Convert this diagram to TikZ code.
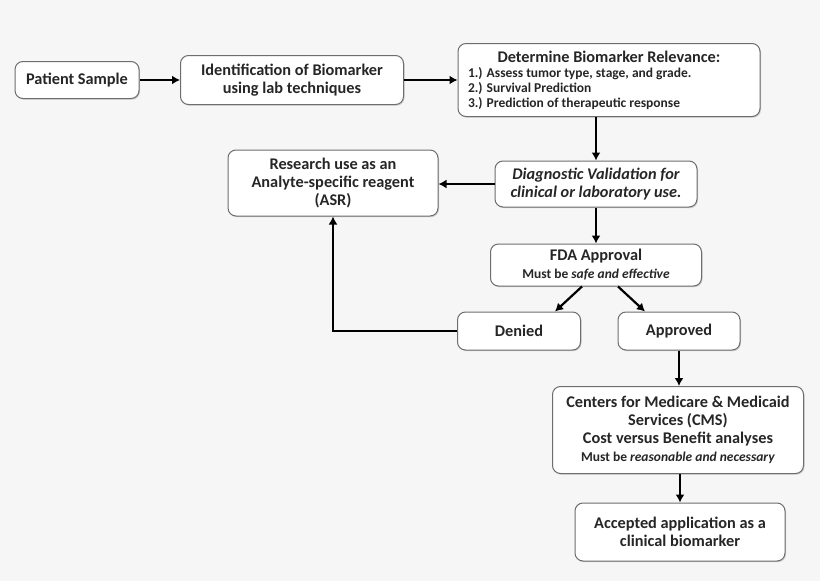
\documentclass[tikz,border=0pt]{standalone}
\usepackage{fontspec}
\setmainfont{Carlito}
\usetikzlibrary{arrows.meta,shadows}
\definecolor{bgcol}{HTML}{F6F6F6}
\definecolor{edgecol}{HTML}{6E6E6E}
\newcommand{\bigtxt}{\fontsize{16.3}{18}\selectfont}
\newcommand{\smtxt}{\fontsize{13.5}{15}\selectfont}
\tikzset{
  box/.style={draw=edgecol, line width=1pt, fill=white, rounded corners=8pt,
    align=center, font=\bfseries\bigtxt, text=black!85, inner sep=2pt,
    drop shadow={shadow xshift=1pt, shadow yshift=-1.2pt, opacity=.35}},
  flow/.style={->, line width=2.2pt, black}
}
\begin{document}
\begin{tikzpicture}[x=1pt, y=-1pt, >={Latex[length=8pt,width=9pt]}]
\useasboundingbox[fill=bgcol] (0,0) rectangle (820,581);

\node[box, minimum width=124, minimum height=37] (ps) at (77,80) {Patient Sample};
\node[box, minimum width=223, minimum height=49] (ident) at (292,80)
  {Identification of Biomarker\\using lab techniques};
\node[box, minimum width=302, minimum height=73, inner sep=0pt] (rel) at (609,80)
  {\parbox{282pt}{\centering\bigtxt Determine Biomarker Relevance:\par
   \raggedright\smtxt 1.) Assess tumor type, stage, and grade.\\
   2.) Survival Prediction\\
   3.) Prediction of therapeutic response\par}};
\node[box, minimum width=202, minimum height=46, font=\bfseries\itshape\bigtxt] (diag) at (596,184)
  {Diagnostic Validation for\\clinical or laboratory use.};
\node[box, minimum width=210, minimum height=66] (asr) at (333,183)
  {Research use as an\\Analyte-specific reagent\\(ASR)};
\node[box, minimum width=211, minimum height=42] (fda) at (596,265)
  {FDA Approval\\{\smtxt Must be \textit{safe and effective}}};
\node[box, minimum width=123, minimum height=38] (den) at (519,331) {Denied};
\node[box, minimum width=122, minimum height=38] (app) at (679,331) {Approved};
\node[box, minimum width=251, minimum height=87] (cms) at (678,430)
  {Centers for Medicare \& Medicaid\\Services (CMS)\\Cost versus Benefit analyses\\
   {\smtxt Must be \textit{reasonable and necessary}}};
\node[box, minimum width=210, minimum height=58] (acc) at (680,532)
  {Accepted application as a\\clinical biomarker};

\draw[flow] (ps.east)--(ident.west);
\draw[flow] (ident.east)--(rel.west);
\draw[flow] (rel.south -| diag.north)--(diag.north);
\draw[flow] (diag.west)--(asr.east |- diag.west);
\draw[flow] (diag.south)--(fda.north);
\draw[flow] ([xshift=-14pt]fda.south)--([xshift=36pt]den.north);
\draw[flow] ([xshift=22pt]fda.south)--([xshift=-34pt]app.north);
\draw[flow] (den.west)-|(asr.south);
\draw[flow] (app.south)--(app.south |- cms.north);
\draw[flow] (cms.south -| acc.north)--(acc.north);

\end{tikzpicture}
\end{document}
